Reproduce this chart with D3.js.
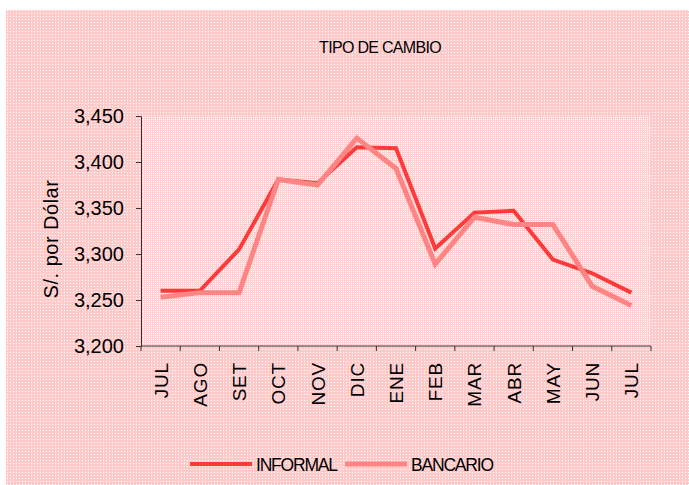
<!DOCTYPE html>
<html><head><meta charset="utf-8">
<script src="https://cdn.jsdelivr.net/npm/d3@7"></script>
<style>html,body{margin:0;padding:0;background:#fff;}svg{display:block;}</style>
</head><body>
<script>
const months = ["JUL","AGO","SET","OCT","NOV","DIC","ENE","FEB","MAR","ABR","MAY","JUN","JUL"];
const informal = [3260,3260,3305,3381,3377,3416,3415,3306,3345,3347,3294,3279,3258];
const bancario = [3253,3258,3258,3381,3375,3426,3393,3289,3340,3332,3332,3265,3244];
const yTicks = [3200,3250,3300,3350,3400,3450];
const seriesNames = ["INFORMAL","BANCARIO"];
const colors = ["#ff3a3a","#ff8585"];

(function(){
const W = 689, H = 485;
const svg = d3.select("body").append("svg").attr("width", W).attr("height", H);
const defs = svg.append("defs");
const p1 = defs.append("pattern").attr("id","outer").attr("width",3).attr("height",3).attr("patternUnits","userSpaceOnUse");
p1.append("rect").attr("width",3).attr("height",3).attr("fill","#ffcaca");
p1.append("rect").attr("x",1).attr("y",1).attr("width",1).attr("height",1).attr("fill","#ffffff");
const p2 = defs.append("pattern").attr("id","inner").attr("width",2).attr("height",2).attr("patternUnits","userSpaceOnUse");
p2.append("rect").attr("width",2).attr("height",2).attr("fill","#ffcfcf");
p2.append("rect").attr("x",1).attr("y",1).attr("width",1).attr("height",1).attr("fill","#ffffff");

svg.append("rect").attr("x",6).attr("y",10).attr("width",W-6).attr("height",H-10).attr("fill","url(#outer)");

const mLeft = 141, mRight = 651, mTop = 116, mBottom = 346;
svg.append("rect").attr("x",mLeft).attr("y",mTop).attr("width",mRight-mLeft).attr("height",mBottom-mTop).attr("fill","url(#inner)");

const x = d3.scaleBand().domain(d3.range(months.length)).range([mLeft,mRight]).padding(0);
const y = d3.scaleLinear().domain([3200,3450]).range([mBottom,mTop]);

const font = "'Liberation Sans', Arial, sans-serif";

// title
svg.append("text").attr("x",380).attr("y",53).attr("text-anchor","middle")
  .attr("font-family",font).attr("font-size",16).attr("letter-spacing","-0.7px").attr("fill","#000")
  .text("TIPO DE CAMBIO");

// y axis
const yAxis = svg.append("g").attr("transform",`translate(${mLeft},0)`)
  .call(d3.axisLeft(y).tickValues(yTicks).tickSize(5).tickPadding(12)
    .tickFormat(d => d3.format(",")(d)));
yAxis.select(".domain").attr("stroke","#333");
yAxis.selectAll(".tick line").attr("stroke","#333");
yAxis.selectAll(".tick text").attr("font-family",font).attr("font-size",20).attr("fill","#000");

// y title
svg.append("text").attr("transform","translate(58,239) rotate(-90)").attr("text-anchor","middle")
  .attr("font-family",font).attr("font-size",20).attr("fill","#000").attr("letter-spacing","0.5px")
  .text("S/. por Dólar");

// x axis
const xAxisG = svg.append("g").attr("transform",`translate(0,${mBottom})`);
xAxisG.append("line").attr("x1",mLeft).attr("x2",mRight).attr("stroke","#333");
const bounds = d3.range(months.length+1).map(i => i < months.length ? x(i) : x(months.length-1)+x.bandwidth());
xAxisG.selectAll("line.t").data(bounds).join("line").attr("class","t")
  .attr("x1",d=>d).attr("x2",d=>d).attr("y1",0).attr("y2",5).attr("stroke","#333");
xAxisG.selectAll("text").data(months).join("text")
  .attr("transform",(d,i)=>`translate(${x(i)+x.bandwidth()/2+7},16) rotate(-90)`)
  .attr("text-anchor","end").attr("font-family",font).attr("font-size",19).attr("fill","#000")
  .attr("letter-spacing","0.8px")
  .text(d=>d);

// lines
const line = d3.line().x((d,i)=>x(i)+x.bandwidth()/2).y(d=>y(d));
const data = [informal, bancario];
const widths = [4, 5];
svg.selectAll("path.series").data(data).join("path").attr("class","series")
  .attr("d",line).attr("fill","none").attr("stroke",(d,i)=>colors[i]).attr("stroke-width",(d,i)=>widths[i])
  .attr("stroke-linejoin","miter");

// legend
const lx = [190, 345];
seriesNames.forEach((n,i)=>{
  svg.append("line").attr("x1",lx[i]).attr("x2",lx[i]+62).attr("y1",464).attr("y2",464)
    .attr("stroke",colors[i]).attr("stroke-width",widths[i]);
  svg.append("text").attr("x",lx[i]+66).attr("y",470.5).attr("font-family",font).attr("font-size",17.5)
    .attr("letter-spacing","-1.2px").attr("fill","#000").text(n);
});
})();
</script>
</body></html>
